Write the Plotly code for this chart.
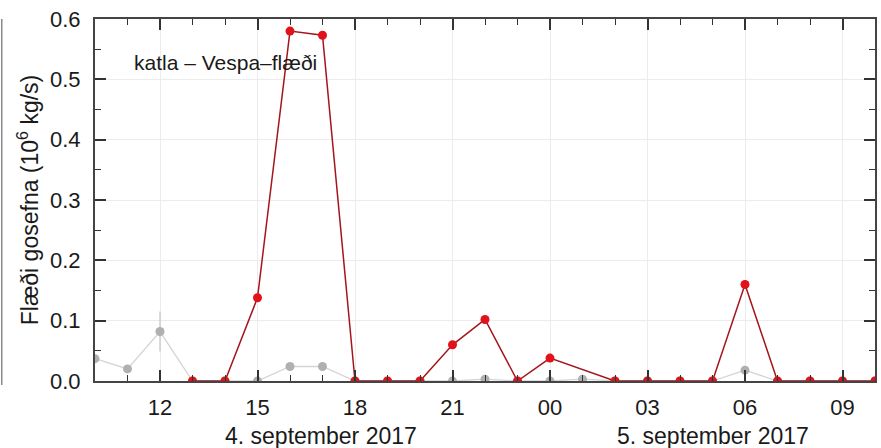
import plotly.graph_objects as go

# ---- data ----
grey_times = ["2017-09-04 10:00", "2017-09-04 11:00", "2017-09-04 12:00", "2017-09-04 13:00",
              "2017-09-04 14:00", "2017-09-04 15:00", "2017-09-04 16:00", "2017-09-04 17:00",
              "2017-09-04 18:00", "2017-09-04 19:00", "2017-09-04 20:00", "2017-09-04 21:00",
              "2017-09-04 22:00", "2017-09-04 23:00", "2017-09-05 00:00", "2017-09-05 01:00",
              "2017-09-05 02:00", "2017-09-05 03:00", "2017-09-05 04:00", "2017-09-05 05:00",
              "2017-09-05 06:00", "2017-09-05 07:00", "2017-09-05 08:00", "2017-09-05 09:00",
              "2017-09-05 10:00"]
grey_vals = [0.037, 0.020, 0.082, 0.0, 0.0, 0.0, 0.024, 0.024, 0.0, 0.0, 0.0, 0.0,
             0.003, 0.0, 0.0, 0.003, 0.0, 0.0, 0.0, 0.0, 0.018, 0.0, 0.0, 0.0, 0.0]
grey_err = [0, 0, 0.033, 0, 0, 0, 0.006, 0.006, 0, 0, 0, 0,
            0, 0, 0, 0, 0, 0, 0, 0, 0.006, 0, 0, 0, 0]

red_times = ["2017-09-04 13:00", "2017-09-04 14:00", "2017-09-04 15:00", "2017-09-04 16:00",
             "2017-09-04 17:00", "2017-09-04 18:00", "2017-09-04 19:00", "2017-09-04 20:00",
             "2017-09-04 21:00", "2017-09-04 22:00", "2017-09-04 23:00", "2017-09-05 00:00",
             "2017-09-05 02:00", "2017-09-05 03:00", "2017-09-05 04:00", "2017-09-05 05:00",
             "2017-09-05 06:00", "2017-09-05 07:00", "2017-09-05 08:00", "2017-09-05 09:00",
             "2017-09-05 10:00"]
red_vals = [0.0, 0.0, 0.138, 0.580, 0.573, 0.0, 0.0, 0.0, 0.060, 0.102, 0.0, 0.038,
            0.0, 0.0, 0.0, 0.0, 0.160, 0.0, 0.0, 0.0, 0.0]

x_tickvals = ["2017-09-04 12:00", "2017-09-04 15:00", "2017-09-04 18:00", "2017-09-04 21:00",
              "2017-09-05 00:00", "2017-09-05 03:00", "2017-09-05 06:00", "2017-09-05 09:00"]
x_ticktext = ["12", "15", "18", "21", "00", "03", "06", "09"]
y_tickvals = [0.0, 0.1, 0.2, 0.3, 0.4, 0.5, 0.6]
y_ticktext = ["0.0", "0.1", "0.2", "0.3", "0.4", "0.5", "0.6"]
date_labels = ["4. september 2017", "5. september 2017"]
title_text = "katla \u2013 Vespa\u2013flæði"
y_title = "Flæði gosefna (10<sup>6</sup> kg/s)"

FONT = "Liberation Sans, Arial, Helvetica, sans-serif"
TXT = "#1a1a1a"

fig = go.Figure()
fig.add_trace(go.Scatter(
    x=grey_times, y=grey_vals, mode="lines+markers",
    line=dict(color="#d4d4d4", width=1.3),
    marker=dict(color="#b0b0b0", size=9),
    error_y=dict(type="data", array=grey_err, visible=True, color="#c8c8c8", thickness=1.3, width=0),
    showlegend=False, hoverinfo="skip"))
fig.add_trace(go.Scatter(
    x=red_times, y=red_vals, mode="lines+markers",
    line=dict(color="#a3161c", width=1.5),
    marker=dict(color="#e2121b", size=9),
    showlegend=False))

fig.update_layout(
    width=881, height=448,
    margin=dict(l=95, r=4, t=19, b=67),
    paper_bgcolor="white", plot_bgcolor="white",
    font=dict(family=FONT, color=TXT, size=22),
    xaxis=dict(
        type="date",
        range=["2017-09-04 10:00", "2017-09-05 10:00"],
        tickmode="array", tickvals=x_tickvals, ticktext=x_ticktext,
        ticks="inside", ticklen=11, tickwidth=1.6, tickcolor="#333",
        minor=dict(dtick=3600000, ticks="inside", ticklen=6, tickwidth=1.3, tickcolor="#333", showgrid=False),
        showline=True, linecolor="#444", linewidth=2, mirror="allticks",
        showgrid=True, gridcolor="#ececec", gridwidth=1,
        zeroline=False,
        ticklabelstandoff=6,
        tickfont=dict(size=22, family=FONT, color=TXT),
    ),
    yaxis=dict(
        range=[0, 0.6],
        tickmode="array", tickvals=y_tickvals, ticktext=y_ticktext,
        ticks="inside", ticklen=11, tickwidth=1.6, tickcolor="#333",
        minor=dict(dtick=0.05, tick0=0, ticks="inside", ticklen=6, tickwidth=1.3, tickcolor="#333", showgrid=False),
        showline=True, linecolor="#444", linewidth=2, mirror="allticks",
        showgrid=True, gridcolor="#ececec", gridwidth=1,
        zeroline=False,
        ticklabelstandoff=8,
        tickfont=dict(size=22, family=FONT, color=TXT),
        title=dict(text=y_title, font=dict(size=23, family=FONT, color=TXT), standoff=5),
    ),
)

fig.add_annotation(text=title_text, xref="paper", yref="paper", x=0.047, y=0.881,
                   xanchor="left", yanchor="middle", showarrow=False,
                   font=dict(size=21, family=FONT, color=TXT))
fig.add_annotation(text=date_labels[0], xref="paper", yref="paper", x=0.290, y=0,
                   yshift=-55, xanchor="center", yanchor="middle", showarrow=False,
                   font=dict(size=23, family=FONT, color=TXT))
fig.add_annotation(text=date_labels[1], xref="paper", yref="paper", x=0.792, y=0,
                   yshift=-55, xanchor="center", yanchor="middle", showarrow=False,
                   font=dict(size=23, family=FONT, color=TXT))

# thin border line at far left edge of the image
fig.add_shape(type="line", xref="paper", yref="paper",
              x0=-93.5 / 782, x1=-93.5 / 782, y0=-4 / 362, y1=1.0,
              line=dict(color="#8a8a8a", width=1.5))

fig.write_html("out.html", config={"displayModeBar": False},
               post_script="document.body.style.margin='0';")
